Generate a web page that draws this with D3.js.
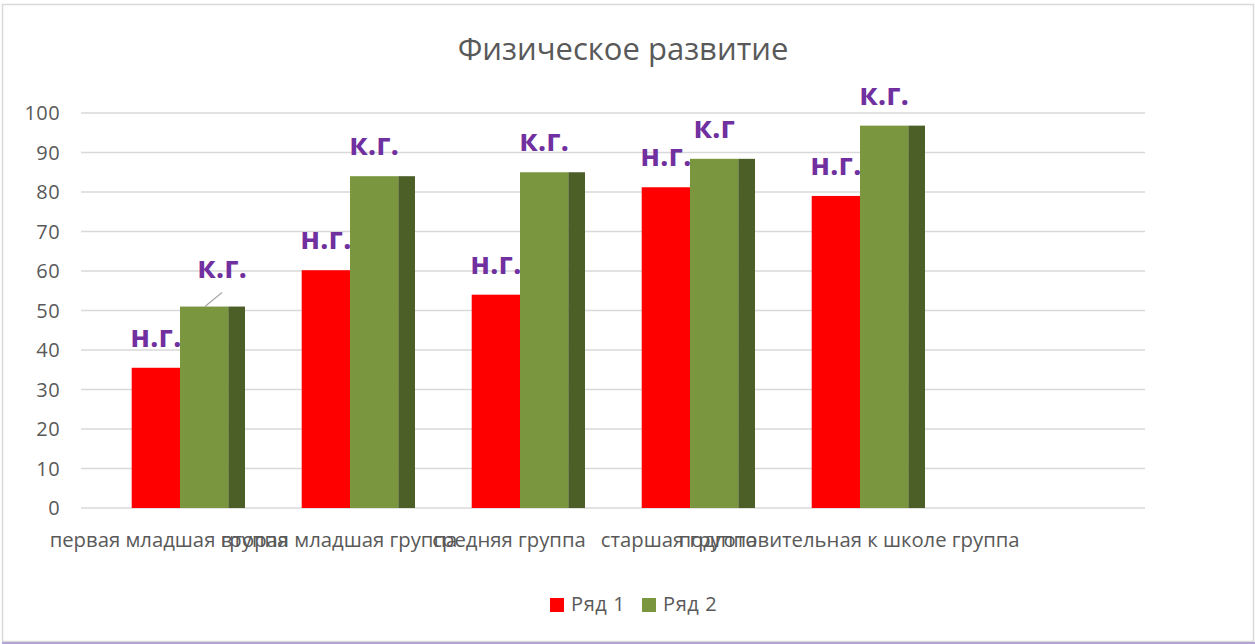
<!DOCTYPE html>
<html>
<head>
<meta charset="utf-8">
<script src="https://cdn.jsdelivr.net/npm/d3@7"></script>
<style>
  body { margin: 0; background: #fff; }
  svg { display: block; font-family: "Open Sans", sans-serif; }
</style>
</head>
<body>
<svg width="1255" height="644"></svg>
<script>
var categories = ['первая младшая группа', 'вторая младшая группа', 'средняя группа', 'старшая группа', 'подготовительная к школе группа', ''];
var series1 = [35.5, 60.2, 54, 81.2, 79];
var series2 = [51, 84, 85, 88.4, 96.8];
var labels1 = ['н.г.', 'н.г.', 'н.г.', 'н.г.', 'н.г.'];
var labels2 = ['к.г.', 'к.г.', 'к.г.', 'к.г', 'к.г.'];
var seriesNames = ['Ряд 1', 'Ряд 2'];
var yTicks = d3.range(0, 101, 10);

var svg = d3.select('svg');
var red = '#ff0000', green = '#7a963f', greenSide = '#4c5f27', purple = '#7030a0', grey = '#595959';

var x = d3.scaleBand().domain(categories).range([95, 1115]).padding(0);
var y = d3.scaleLinear().domain([0, 100]).range([508, 113]);
var barW = 48.3, depth = 16.7;

// chart border
svg.append('rect')
    .attr('x', 2.5).attr('y', 4.5).attr('width', 1251).attr('height', 637)
    .attr('fill', '#fff').attr('stroke', '#d9d9d9').attr('stroke-width', 1.5);
svg.append('line')
    .attr('x1', 2).attr('x2', 1255).attr('y1', 643).attr('y2', 643)
    .attr('stroke', '#b3a5d3').attr('stroke-width', 2);

// title
svg.append('text')
    .attr('x', 623).attr('y', 60)
    .attr('text-anchor', 'middle')
    .attr('font-size', 31).attr('fill', grey)
    .text('Физическое развитие');

// grid + y labels
svg.append('g').selectAll('line').data(yTicks).enter().append('line')
    .attr('x1', 81).attr('x2', 1145)
    .attr('y1', function (d) { return y(d); }).attr('y2', function (d) { return y(d); })
    .attr('stroke', '#d9d9d9').attr('stroke-width', 1.6);

svg.append('g').selectAll('text').data(yTicks).enter().append('text')
    .attr('x', 60).attr('y', function (d) { return y(d); })
    .attr('dy', '0.35em')
    .attr('text-anchor', 'end')
    .attr('font-size', 20).attr('letter-spacing', 0.4).attr('fill', grey)
    .text(function (d) { return d; });

function center(i) { return x(categories[i]) + x.bandwidth() / 2; }

// bars
var groups = svg.append('g').selectAll('g').data(series1).enter().append('g');

groups.append('rect')
    .attr('x', function (d, i) { return center(i) - barW; })
    .attr('y', function (d) { return y(d); })
    .attr('width', barW)
    .attr('height', function (d) { return y(0) - y(d); })
    .attr('fill', red);

groups.append('rect')
    .attr('x', function (d, i) { return center(i); })
    .attr('y', function (d, i) { return y(series2[i]); })
    .attr('width', barW)
    .attr('height', function (d, i) { return y(0) - y(series2[i]); })
    .attr('fill', green);

groups.append('rect')
    .attr('x', function (d, i) { return center(i) + barW; })
    .attr('y', function (d, i) { return y(series2[i]); })
    .attr('width', depth)
    .attr('height', function (d, i) { return y(0) - y(series2[i]); })
    .attr('fill', greenSide);

// data labels
groups.append('text')
    .attr('x', function (d, i) { return center(i) - barW / 2; })
    .attr('y', function (d) { return y(d) - 21; })
    .attr('text-anchor', 'middle')
    .attr('font-size', 30).attr('font-weight', 'bold').attr('fill', purple)
    .text(function (d, i) { return labels1[i]; });

groups.append('text')
    .attr('x', function (d, i) { return center(i) + barW / 2 + (i === 0 ? 18 : 0); })
    .attr('y', function (d, i) { return y(series2[i]) - (i === 0 ? 29 : 21); })
    .attr('text-anchor', 'middle')
    .attr('font-size', 30).attr('font-weight', 'bold').attr('fill', purple)
    .text(function (d, i) { return labels2[i]; });

// leader line for the moved first label
svg.append('line')
    .attr('x1', center(0) + 25).attr('y1', y(series2[0]))
    .attr('x2', center(0) + 42).attr('y2', y(series2[0]) - 14)
    .attr('stroke', '#a6a6a6').attr('stroke-width', 1.2);

// category labels (3d floor shifts them a little to the left)
svg.append('g').selectAll('text').data(categories).enter().append('text')
    .attr('x', function (d, i) { return center(i) - 11; })
    .attr('y', 547)
    .attr('text-anchor', 'middle')
    .attr('font-size', 20.3).attr('fill', grey)
    .text(function (d) { return d; });

// legend
var legendX = [550, 642];
var legend = svg.append('g').selectAll('g').data(seriesNames).enter().append('g')
    .attr('transform', function (d, i) { return 'translate(' + legendX[i] + ',598)'; });
legend.append('rect')
    .attr('width', 14).attr('height', 14)
    .attr('fill', function (d, i) { return i === 0 ? red : green; });
legend.append('text')
    .attr('x', 21).attr('y', 13)
    .attr('font-size', 20).attr('letter-spacing', 0.6).attr('fill', grey)
    .text(function (d) { return d; });
</script>
</body>
</html>
